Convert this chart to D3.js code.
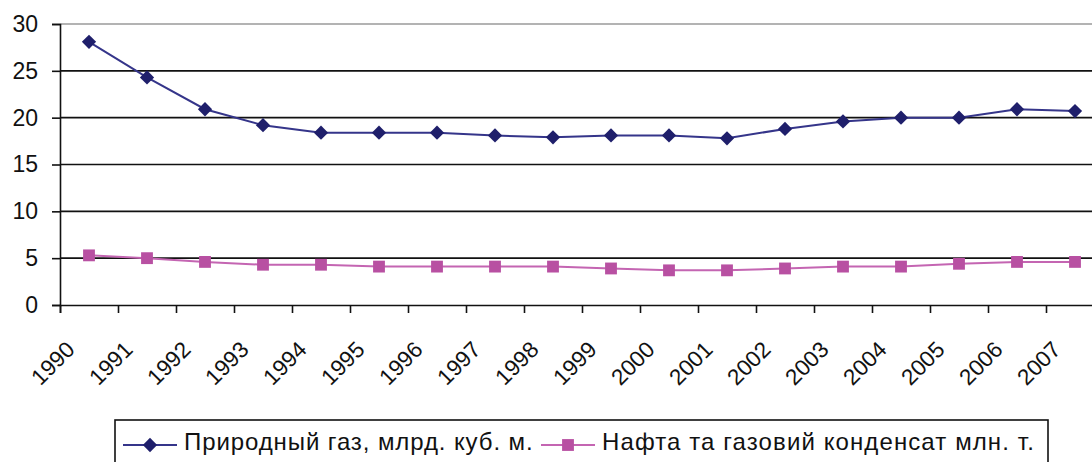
<!DOCTYPE html>
<html>
<head>
<meta charset="utf-8">
<script src="https://cdn.jsdelivr.net/npm/d3@7"></script>
<style>
  html, body { margin: 0; padding: 0; background: #fff; }
  svg { display: block; font-family: "Liberation Sans", Arial, sans-serif; }
</style>
</head>
<body>
<svg id="chart" width="1092" height="462"></svg>
<script>
// ---- DATA ----
const years = ["1990","1991","1992","1993","1994","1995","1996","1997","1998",
               "1999","2000","2001","2002","2003","2004","2005","2006","2007"];
const gas = [28.1, 24.3, 20.9, 19.2, 18.4, 18.4, 18.4, 18.1, 17.9,
             18.1, 18.1, 17.8, 18.8, 19.6, 20.0, 20.0, 20.9, 20.7];
const oil = [5.3, 5.0, 4.6, 4.3, 4.3, 4.1, 4.1, 4.1, 4.1,
             3.9, 3.7, 3.7, 3.9, 4.1, 4.1, 4.4, 4.6, 4.6];
const yTicks = [0, 5, 10, 15, 20, 25, 30];
const seriesNames = ["Природный газ, млрд. куб. м.", "Нафта та газовий конденсат млн. т."];

// ---- LAYOUT ----
const plotL = 60, plotR = 1104, plotT = 24, plotB = 305;
const gasColor = "#1f1f6b", gasLine = "#35358a";
const oilColor = "#b850a2", oilLine = "#c465b2";

const svg = d3.select("#chart");
svg.append("rect").attr("width", 1092).attr("height", 462).attr("fill", "#fff");

const x = d3.scaleBand().domain(years).range([plotL, plotR]);
const xIdx = d3.scaleLinear().domain([0, years.length]).range([plotL, plotR]);
const y = d3.scaleLinear().domain([0, 30]).range([plotB, plotT]);
const cx = d => x(d) + x.bandwidth() / 2;

// gridlines (top one is the grey plot border)
svg.append("g").selectAll("line")
  .data(yTicks.filter(t => t > 0))
  .enter().append("line")
  .attr("x1", plotL).attr("x2", plotR)
  .attr("y1", d => y(d)).attr("y2", d => y(d))
  .attr("stroke", d => d === 30 ? "#9a9a9a" : "#111")
  .attr("stroke-width", 1.6);

// y axis
const yAxis = svg.append("g")
  .attr("transform", `translate(${plotL},0)`)
  .call(d3.axisLeft(y).tickValues(yTicks).tickSize(8).tickPadding(14));
yAxis.selectAll("path, line").attr("stroke", "#111").attr("stroke-width", 1.6);
yAxis.selectAll("text").attr("font-size", 23).attr("fill", "#111")
  .attr("font-family", "'Liberation Sans', Arial, sans-serif");

// x axis (ticks between categories)
const xAxis = svg.append("g")
  .attr("transform", `translate(0,${plotB})`)
  .call(d3.axisBottom(xIdx).tickValues(d3.range(years.length + 1)).tickSize(8).tickFormat(""));
xAxis.select("path").attr("stroke", "#111").attr("stroke-width", 1.6);
xAxis.selectAll("line").attr("stroke", "#111").attr("stroke-width", 1.6);

svg.append("g").selectAll("text")
  .data(years)
  .enter().append("text")
  .attr("transform", d => `translate(${cx(d) - 13},${plotB + 46}) rotate(-45)`)
  .attr("text-anchor", "end")
  .attr("font-size", 22.5)
  .attr("fill", "#111")
  .text(d => d);

// lines
const line = d3.line().x((d, i) => cx(years[i])).y(d => y(d));
svg.append("path").datum(gas).attr("d", line)
  .attr("fill", "none").attr("stroke", gasLine).attr("stroke-width", 2);
svg.append("path").datum(oil).attr("d", line)
  .attr("fill", "none").attr("stroke", oilLine).attr("stroke-width", 2);

// markers
const diamond = d3.symbol().type(d3.symbolDiamond2).size(130);
const square = d3.symbol().type(d3.symbolSquare).size(140);
svg.append("g").selectAll("path")
  .data(gas).enter().append("path")
  .attr("d", diamond)
  .attr("transform", (d, i) => `translate(${cx(years[i])},${y(d)})`)
  .attr("fill", gasColor);
svg.append("g").selectAll("path")
  .data(oil).enter().append("path")
  .attr("d", square)
  .attr("transform", (d, i) => `translate(${cx(years[i])},${y(d)})`)
  .attr("fill", oilColor);

// legend
const lg = svg.append("g");
lg.append("rect").attr("x", 115).attr("y", 420).attr("width", 933).attr("height", 60)
  .attr("fill", "#fff").attr("stroke", "#111").attr("stroke-width", 1.6);
const items = [
  { name: seriesNames[0], color: gasColor, lineColor: gasLine, sym: diamond, x0: 123, ls: 0.9 },
  { name: seriesNames[1], color: oilColor, lineColor: oilLine, sym: square, x0: 541, ls: 1.1 }
];
items.forEach(it => {
  lg.append("line").attr("x1", it.x0).attr("x2", it.x0 + 54)
    .attr("y1", 445).attr("y2", 445)
    .attr("stroke", it.lineColor).attr("stroke-width", 2);
  lg.append("path").attr("d", it.sym)
    .attr("transform", `translate(${it.x0 + 27},445)`).attr("fill", it.color);
  lg.append("text").attr("x", it.x0 + 61).attr("y", 450)
    .attr("font-size", 24).attr("letter-spacing", it.ls)
    .attr("fill", "#111").text(it.name);
});
</script>
</body>
</html>
